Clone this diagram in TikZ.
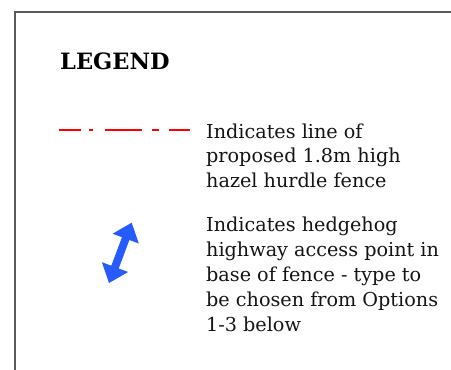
\documentclass[tikz,border=0pt]{standalone}
\usepackage{fontspec}
\setmainfont{DejaVu Serif}
\definecolor{arrowblue}{RGB}{38,92,255}
\definecolor{framegray}{RGB}{90,90,90}
\definecolor{txt}{RGB}{20,20,20}
\begin{document}
\begin{tikzpicture}[x=1pt,y=-1pt,
  legtxt/.style={anchor=base west,inner sep=0pt,text=txt,font=\fontsize{19.2}{23}\selectfont},
  legtitle/.style={anchor=base west,inner sep=0pt,text=black,font=\fontsize{22.5}{27}\selectfont\bfseries},
  fenceline/.style={draw=red,line width=2pt}]
\useasboundingbox (0,0) rectangle (451,370);
\fill[white] (0,0) rectangle (451,370);
% frame
\draw[framegray,line width=1.2pt] (15,371) -- (15,12) -- (452,12);
% title
\node[legtitle] (title) at (60,69) {LEGEND};
% red dash-dot fence line
\draw[fenceline] (59,130) -- (81,130);
\draw[fenceline] (89,130) -- (93,130);
\draw[fenceline] (105,130) -- (142,130);
\draw[fenceline] (152,130) -- (159,130);
\draw[fenceline] (169,130) -- (190,130);
% blue double arrow
\fill[arrowblue] (131.7,222.7) -- (138.8,243.5) -- (129.4,240.0) -- (118.7,268.5)
  -- (128.1,272.0) -- (109,283) -- (101.9,262.2) -- (111.3,265.7) -- (122.0,237.2)
  -- (112.6,233.7) -- cycle;
% texts
\node[legtxt] (a1) at (206,138) {Indicates line of};
\node[legtxt] (a2) at (206,162.5) {proposed 1.8m high};
\node[legtxt] (a3) at (206,187) {hazel hurdle fence};
\node[legtxt] (b1) at (206,231.5) {Indicates hedgehog};
\node[legtxt] (b2) at (206,256.5) {highway access point in};
\node[legtxt] (b3) at (206,281.5) {base of fence - type to};
\node[legtxt] (b4) at (206,306.5) {be chosen from Options};
\node[legtxt] (b5) at (206,331.5) {1-3 below};
\end{tikzpicture}
\end{document}
